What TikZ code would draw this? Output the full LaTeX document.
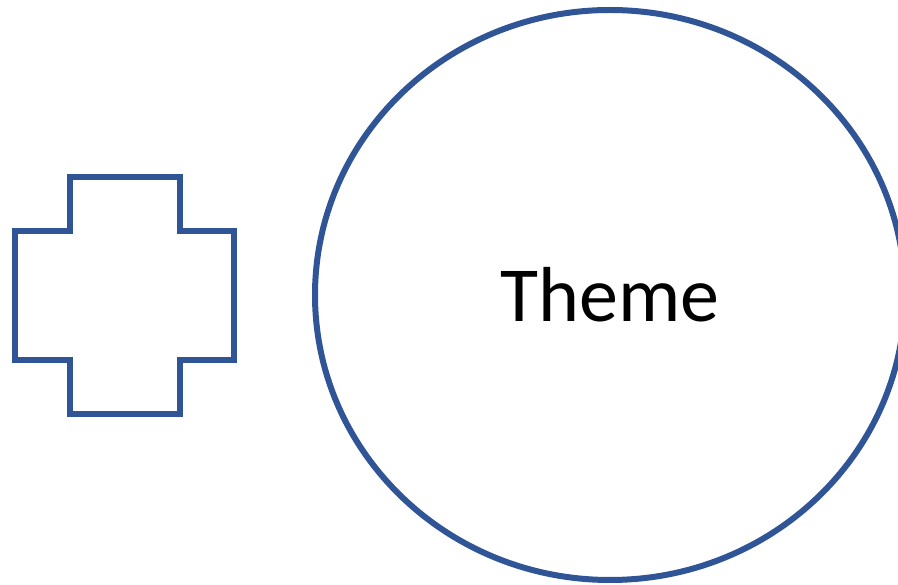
\documentclass[tikz,border=0pt]{standalone}
\usepackage{fontspec}
\setmainfont{Carlito}
\usetikzlibrary{shapes.geometric}
\definecolor{themeblue}{HTML}{2F5597}

\begin{document}
\begin{tikzpicture}[x=1pt,y=-1pt,line width=6pt]
        \useasboundingbox (0,0) rectangle (898,585);
        \draw[themeblue,line join=miter] (70,177) -- (180,177) -- (180,231) -- (234,231) -- (234,360)
          -- (180,360) -- (180,414) -- (70,414) -- (70,360) -- (15,360) -- (15,231) -- (70,231) -- cycle;
        \node[ellipse,draw=themeblue,minimum width=590pt,minimum height=570pt,inner sep=0pt,
          font=\fontsize{78}{94}\selectfont] (theme) at (610,295) {Theme};
      \end{tikzpicture}
\end{document}
